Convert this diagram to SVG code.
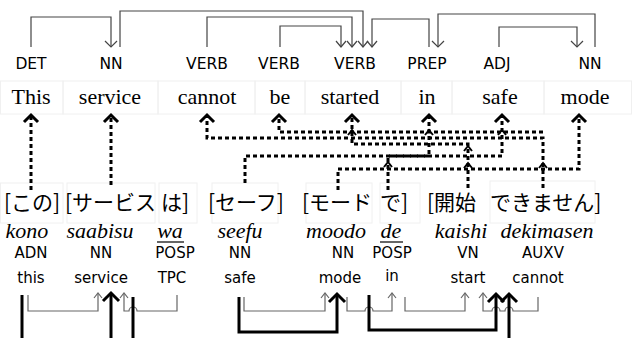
<svg xmlns="http://www.w3.org/2000/svg" width="632" height="338" viewBox="0 0 632 338">
<style>
.box{fill:none;stroke:#f0f0f0;stroke-width:1}
.tag{font-family:"DejaVu Sans",sans-serif;font-size:15.5px;fill:#000;text-anchor:middle}
.btag{font-family:"DejaVu Sans",sans-serif;font-size:15px;fill:#000;text-anchor:middle}
.word{font-family:"Liberation Serif",serif;font-size:22px;fill:#000;text-anchor:middle}
.jp{font-family:"Noto Sans CJK JP","DejaVu Sans",sans-serif;font-size:21px;fill:#000}
.rom{font-family:"Liberation Serif",serif;font-style:italic;font-size:22px;fill:#000;text-anchor:middle}
.dep{fill:none;stroke:#444;stroke-width:1.2}
.thin{fill:none;stroke:#666;stroke-width:1.2}
.bold{fill:none;stroke:#000;stroke-width:3}
.dash{fill:none;stroke:#000;stroke-width:3;stroke-dasharray:4 3}
.chev{fill:none;stroke:#000;stroke-width:3}
.schev{fill:none;stroke:#000;stroke-width:2}
</style>
<rect width="632" height="338" fill="#fff"/>
<g id="word-boxes">
<rect class="box" x="0.5" y="81" width="62.5" height="33"/>
<rect class="box" x="63" y="81" width="95" height="33"/>
<rect class="box" x="158" y="81" width="97" height="33"/>
<rect class="box" x="255" y="81" width="50" height="33"/>
<rect class="box" x="305" y="81" width="96" height="33"/>
<rect class="box" x="401" y="81" width="51" height="33"/>
<rect class="box" x="452" y="81" width="92" height="33"/>
<rect class="box" x="544" y="81" width="87.5" height="33"/>
<rect class="box" x="0.5" y="183" width="62.5" height="40"/>
<rect class="box" x="67" y="183" width="88" height="40"/>
<rect class="box" x="159" y="183" width="38" height="40"/>
<rect class="box" x="212" y="183" width="66" height="40"/>
<rect class="box" x="306" y="183" width="66" height="40"/>
<rect class="box" x="380" y="183" width="40" height="40"/>
<rect class="box" x="490" y="181" width="105" height="42"/>
</g>
<g id="n-this"><text class="tag" x="31" y="69">DET</text><text class="word" x="31" y="104">This</text></g>
<g id="n-service"><text class="tag" x="111" y="69">NN</text><text class="word" x="110" y="104">service</text></g>
<g id="n-cannot"><text class="tag" x="207" y="69">VERB</text><text class="word" x="207" y="104">cannot</text></g>
<g id="n-be"><text class="tag" x="279" y="69">VERB</text><text class="word" x="280" y="104">be</text></g>
<g id="n-started"><text class="tag" x="355" y="69">VERB</text><text class="word" x="350" y="104">started</text></g>
<g id="n-in"><text class="tag" x="427" y="69">PREP</text><text class="word" x="427" y="104">in</text></g>
<g id="n-safe"><text class="tag" x="497" y="69">ADJ</text><text class="word" x="500" y="104">safe</text></g>
<g id="n-mode"><text class="tag" x="590" y="69">NN</text><text class="word" x="585" y="104">mode</text></g>
<g id="j-kono"><text class="jp" x="4" y="210">[この]</text><text class="rom" x="27" y="238">kono</text><text class="btag" x="31" y="258">ADN</text><text class="btag" x="31" y="283">this</text></g>
<g id="j-saabisu"><text class="jp" x="65" y="210">[サービス</text><text class="rom" x="100" y="238">saabisu</text><text class="btag" x="101" y="258">NN</text><text class="btag" x="101" y="283">service</text></g>
<g id="j-wa"><text class="jp" x="161" y="210">は]</text><text class="rom" x="170" y="238">wa</text><line x1="157" y1="242" x2="184" y2="242" stroke="#000" stroke-width="1.2"/><text class="btag" x="175" y="258">POSP</text><text class="btag" x="172" y="283">TPC</text></g>
<g id="j-seefu"><text class="jp" x="208" y="210">[セーフ]</text><text class="rom" x="240" y="238">seefu</text><text class="btag" x="240" y="258">NN</text><text class="btag" x="240" y="283">safe</text></g>
<g id="j-moodo"><text class="jp" x="302" y="210">[モード</text><text class="rom" x="336" y="238">moodo</text><text class="btag" x="343" y="258">NN</text><text class="btag" x="340" y="283">mode</text></g>
<g id="j-de"><text class="jp" x="380" y="210">で]</text><text class="rom" x="391" y="238">de</text><line x1="380" y1="242" x2="403" y2="242" stroke="#000" stroke-width="1.2"/><text class="btag" x="392" y="258">POSP</text><text class="btag" x="392" y="281">in</text></g>
<g id="j-kaishi"><text class="jp" x="427" y="210">[開始</text><text class="rom" x="461" y="238">kaishi</text><text class="btag" x="468" y="258">VN</text><text class="btag" x="468" y="283">start</text></g>
<g id="j-dekimasen"><text class="jp" x="490" y="210">できません]</text><text class="rom" x="547" y="238">dekimasen</text><text class="btag" x="543" y="258">AUXV</text><text class="btag" x="538" y="283">cannot</text></g>
<g id="connectors">
<g id="top-deps">
<path class="dep" d="M31,47V17H111V47"/><polyline class="dep" points="105,41 111,47 117,41"/>
<path class="dep" d="M120,47V11H363V47"/><polyline class="dep" points="358,41 363,47 368,41"/>
<path class="dep" d="M207,47V17H352V47"/><polyline class="dep" points="347,41 352,47 357,41"/>
<path class="dep" d="M280,47V26H341V47"/><polyline class="dep" points="336,41 341,47 346,41"/>
<path class="dep" d="M429,47V19H372V47"/><polyline class="dep" points="367,41 372,47 377,41"/>
<path class="dep" d="M595,47V14H438V47"/><polyline class="dep" points="432,41 438,47 444,41"/>
<path class="dep" d="M499,47V27H577V47"/><polyline class="dep" points="571,41 577,47 583,41"/>
</g>
<g id="alignments">
<path class="dash" d="M31,190V117"/><polyline class="chev" points="24,122 31,115 38,122"/>
<path class="dash" d="M111,185V117"/><polyline class="chev" points="104,122 111,115 118,122"/>
<path class="dash" d="M543,188V138H207V117"/><polyline class="chev" points="200,122 207,115 214,122"/>
<path class="dash" d="M543,132H279V117"/><polyline class="chev" points="272,122 279,115 286,122"/>
<path class="dash" d="M468,188V144H352V117"/><polyline class="chev" points="345,122 352,115 359,122"/>
<path class="dash" d="M245,183V156H502V117"/><polyline class="chev" points="495,122 502,115 509,122"/>
<path class="dash" d="M388,190V156H429V117"/><polyline class="chev" points="422,122 429,115 436,122"/>
<path class="dash" d="M338,190V169H579V117"/><polyline class="chev" points="572,122 579,115 586,122"/>
<polyline class="schev" points="348,135 352,130 356,135"/>
<polyline class="schev" points="425,135 429,130 433,135"/>
<polyline class="schev" points="498,135 502,130 506,135"/>
<polyline class="schev" points="464,151 468,146 472,151"/>
<polyline class="schev" points="384,167 388,162 392,167"/>
<polyline class="schev" points="464,168 468,163 472,168"/>
<polyline class="schev" points="539,168 543,163 547,168"/>
</g>
<g id="bottom-deps">
<path class="thin" d="M28,295V311H98V294"/><polyline class="thin" points="94,298 98,293 102,298"/>
<path class="thin" d="M177,295V311H137A4,4 0 0 0 129,311H124V294"/><polyline class="thin" points="120,298 124,293 128,298"/>
<path class="thin" d="M244,297V311H325V294"/><polyline class="thin" points="321,298 325,293 329,298"/>
<path class="thin" d="M347,297V311H365A4,4 0 0 1 373,311H392V294"/><polyline class="thin" points="388,298 392,293 396,298"/>
<path class="thin" d="M405,297V311H465V294"/><polyline class="thin" points="461,298 465,293 469,298"/>
<path class="thin" d="M538,297V311H513A4,4 0 0 0 505,311H500A4,4 0 0 0 492,311H483V294"/><polyline class="thin" points="479,298 483,293 487,298"/>
<path class="bold" d="M22,295V340"/>
<path class="bold" d="M111,340V294"/><polyline class="chev" points="103,301 111,293 119,301"/>
<path class="bold" d="M133,297V340"/>
<path class="bold" d="M239,297V332H337V295"/><polyline class="chev" points="329,302 337,294 345,302"/>
<path class="bold" d="M369,295V330H496V295"/><polyline class="chev" points="488,302 496,294 504,302"/>
<path class="bold" d="M509,340V295"/><polyline class="chev" points="501,302 509,294 517,302"/>
</g>
</g>
</svg>
